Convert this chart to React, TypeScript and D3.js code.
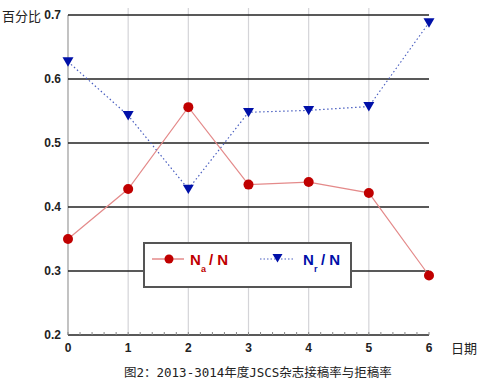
import React from "react";
import * as d3 from "d3";

const days = [0, 1, 2, 3, 4, 5, 6];
const naRatio = [0.35, 0.428, 0.556, 0.435, 0.439, 0.422, 0.293];
const nrRatio = [0.627, 0.543, 0.428, 0.548, 0.551, 0.557, 0.688];
const yTicks = [0.2, 0.3, 0.4, 0.5, 0.6, 0.7];
const xTicks = [0, 1, 2, 3, 4, 5, 6];
const minorTicks = d3.range(0, 6.0001, 0.2);

const W = 490, H = 384;
const x = d3.scaleLinear().domain([0, 6]).range([68, 429]);
const y = d3.scaleLinear().domain([0.2, 0.7]).range([335, 15]);

const RED = "#c00000";
const RED_LINE = "#e48a8a";
const BLUE = "#0010a8";
const BLUE_LINE = "#4a5fc0";

function tri(cx: number, cy: number, s: number) {
  return `M${cx - s},${cy - s * 0.8}L${cx + s},${cy - s * 0.8}L${cx},${cy + s * 0.9}Z`;
}

export default function App() {
  const lineGen = d3
    .line<number>()
    .x((_, i) => x(days[i]))
    .y((d) => y(d));
  const font = "'Liberation Sans', Arial, sans-serif";
  return (
    <svg width={W} height={H} style={{ position: "absolute", left: 0, top: 0, background: "#fff" }}>
      {/* vertical gray grid */}
      {xTicks.slice(1, 6).map((t) => (
        <line key={"v" + t} x1={x(t)} x2={x(t)} y1={8} y2={y(0.2)} stroke="#d4d4d8" strokeWidth={1.2} />
      ))}
      {/* left axis */}
      <line x1={x(0)} x2={x(0)} y1={y(0.7)} y2={y(0.2)} stroke="#9a9a9a" strokeWidth={1.2} />
      {/* horizontal grid */}
      {yTicks.map((t) => (
        <line key={"h" + t} x1={x(0)} x2={x(6)} y1={y(t)} y2={y(t)} stroke="#222" strokeWidth={1.5} />
      ))}
      {/* minor ticks on bottom axis */}
      {minorTicks.map((t, i) => (
        <line key={"m" + i} x1={x(t)} x2={x(t)} y1={y(0.2)} y2={y(0.2) - 3} stroke="#888" strokeWidth={1} />
      ))}
      {/* y tick labels */}
      {yTicks.map((t) => (
        <text key={"yl" + t} x={61} y={y(t)} dy="0.35em" textAnchor="end" fontFamily={font} fontWeight="bold" fontSize={12} fill="#222">
          {d3.format(".1f")(t)}
        </text>
      ))}
      {/* x tick labels */}
      {xTicks.map((t) => (
        <text key={"xl" + t} x={x(t)} y={352} textAnchor="middle" fontFamily={font} fontWeight="bold" fontSize={12} fill="#222">
          {t}
        </text>
      ))}
      <text x={2} y={21} fontFamily="'Noto Sans CJK SC', sans-serif" fontSize={13} fill="#222">百分比</text>
      <text x={451} y={353} fontFamily="'Noto Sans CJK SC', sans-serif" fontSize={13} fill="#222">日期</text>

      {/* Na/N series */}
      <path d={lineGen(naRatio) || ""} fill="none" stroke={RED_LINE} strokeWidth={1.2} />
      {naRatio.map((v, i) => (
        <circle key={"a" + i} cx={x(days[i])} cy={y(v)} r={5} fill={RED} />
      ))}
      {/* Nr/N series */}
      <path d={lineGen(nrRatio) || ""} fill="none" stroke={BLUE_LINE} strokeWidth={1.2} strokeDasharray="1.5,2.5" />
      {nrRatio.map((v, i) => (
        <path key={"r" + i} d={tri(x(days[i]), y(v), 5.5)} fill={BLUE} />
      ))}

      {/* legend */}
      <rect x={144} y={243} width={207} height={44} fill="#fff" stroke="#555" strokeWidth={2} />
      <line x1={152} x2={184} y1={259} y2={259} stroke={RED_LINE} strokeWidth={1.5} />
      <circle cx={169} cy={259} r={4.5} fill={RED} />
      <text x={190} y={265} fontFamily={font} fontWeight="bold" fontSize={15} fill={RED}>N</text>
      <text x={201} y={272} fontFamily={font} fontWeight="bold" fontSize={9} fill={RED}>a</text>
      <text x={209} y={265} fontFamily={font} fontWeight="bold" fontSize={15} fill={RED}>/ N</text>
      <line x1={260} x2={295} y1={259} y2={259} stroke={BLUE_LINE} strokeWidth={1.2} strokeDasharray="1.5,2" />
      <path d={tri(277.5, 258, 5)} fill={BLUE} />
      <text x={303} y={265} fontFamily={font} fontWeight="bold" fontSize={15} fill={BLUE}>N</text>
      <text x={314} y={272} fontFamily={font} fontWeight="bold" fontSize={9} fill={BLUE}>r</text>
      <text x={321} y={265} fontFamily={font} fontWeight="bold" fontSize={15} fill={BLUE}>/ N</text>

      {/* caption */}
      <text x={124} y={377} fontFamily="'DejaVu Sans Mono', 'Noto Sans CJK SC', monospace" fontSize={12.5} fill="#222">
        图2：2013-3014年度JSCS杂志接稿率与拒稿率
      </text>
    </svg>
  );
}
